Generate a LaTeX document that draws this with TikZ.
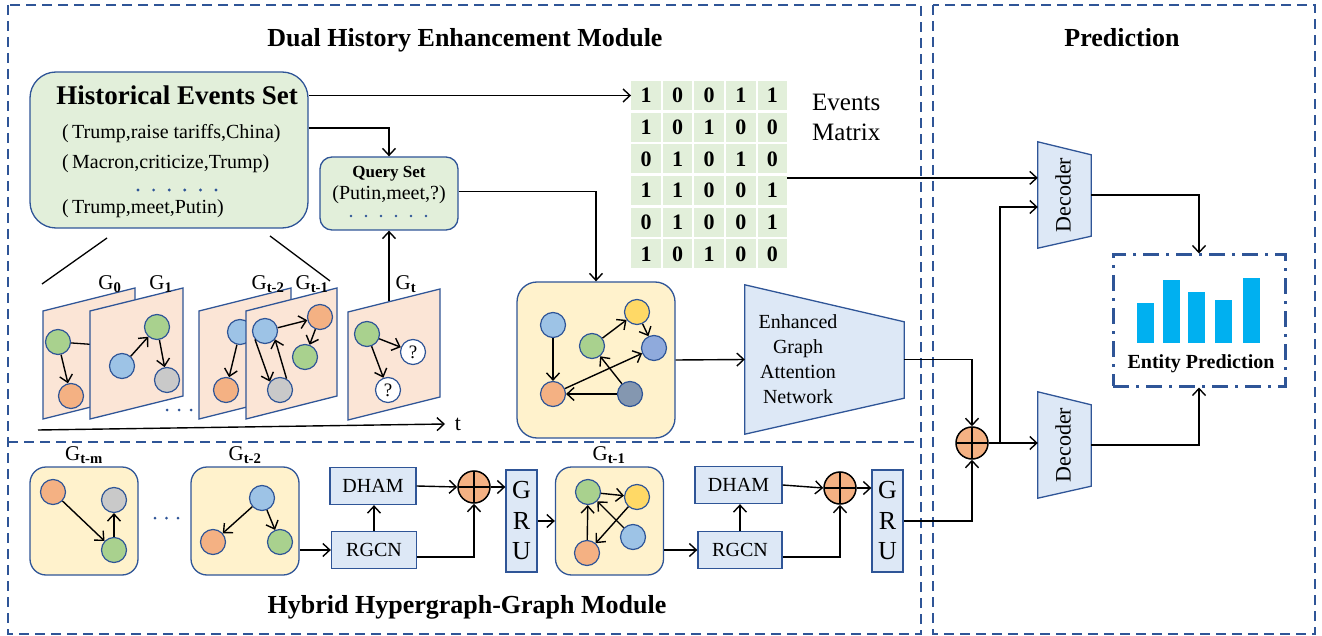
\documentclass[tikz,border=0pt]{standalone}
\usepackage{fontspec}
\setmainfont{Liberation Serif}
\definecolor{hblue}{RGB}{47,85,151}
\definecolor{setgreen}{RGB}{226,239,218}
\definecolor{graphbg}{RGB}{255,242,204}
\definecolor{slabbg}{RGB}{251,229,214}
\definecolor{modbg}{RGB}{221,232,246}
\definecolor{ngreen}{RGB}{169,209,142}
\definecolor{norange}{RGB}{244,177,131}
\definecolor{nblue}{RGB}{157,195,230}
\definecolor{ngray}{RGB}{201,201,201}
\definecolor{nyellow}{RGB}{255,217,102}
\definecolor{nblue2}{RGB}{143,170,220}
\definecolor{nslate}{RGB}{132,151,176}
\definecolor{barcyan}{RGB}{0,176,240}
\usetikzlibrary{arrows.meta,positioning,calc}
\newcommand{\fsz}[1]{\fontsize{#1}{#1}\selectfont}

\begin{document}
\begin{tikzpicture}[x=1pt, y=-1pt,
  arr/.style={-{Straight Barb[length=7pt,width=13pt]}, line width=1.4pt},
  vert/.style={circle, draw=hblue, line width=1.2pt, minimum size=25pt, inner sep=0pt},
  qvert/.style={vert, fill=white, font=\fsz{19}},
  modframe/.style={draw=hblue, line width=2pt, dash pattern=on 10pt off 6pt},
  slab/.style={fill=slabbg, draw=hblue, line width=1.3pt},
  gbox/.style={draw=hblue, fill=graphbg, line width=1.3pt, rounded corners=16pt, minimum width=108pt, minimum height=108pt},
  blk/.style={draw=hblue, fill=modbg, line width=1.3pt, font=\fsz{20}, inner sep=0pt},
  oplus/.style={circle, draw, fill=norange, line width=1.5pt, minimum size=32pt, inner sep=0pt,
    path picture={\draw[line width=1.5pt] (path picture bounding box.north) -- (path picture bounding box.south)
      (path picture bounding box.west) -- (path picture bounding box.east);}},
  title/.style={font=\fsz{26}\bfseries},
  body/.style={font=\fsz{20}, inner sep=0pt},
  glabel/.style={font=\fsz{21}, inner sep=0pt}]
  \useasboundingbox (0,0) rectangle (1322,636);

  % Module frames
  \draw[modframe] (8,5) rectangle (921,634);
  \draw[modframe] (8,442) -- (921,442);
  \draw[modframe] (933,5) rectangle (1315,634);
  \node[title] (dhtitle) at (465,40) {Dual History Enhancement Module};
  \node[title] (pdtitle) at (1122,38) {Prediction};
  \node[title] (hhtitle) at (467,607) {Hybrid Hypergraph-Graph Module};

  % Historical events set
  \node[draw=hblue, fill=setgreen, line width=1.3pt, rounded corners=26pt, minimum width=278pt, minimum height=156pt] (hes) at (169,150) {};
  \node[font=\fsz{27}\bfseries] (hestitle) at (177,95) {Historical Events Set};
  \node[body, anchor=west] (ev1) at (62,134) {(\,Trump,raise tariffs,China)};
  \node[body, anchor=west] (ev2) at (62,164) {(\,Macron,criticize,Trump)};
  \foreach \i in {0,...,5} \fill[hblue] ({138+15.6*\i},190) circle (1.6);
  \node[body, anchor=west] (ev3) at (62,209) {(\,Trump,meet,Putin)};

  % Query set
  \node[draw=hblue, fill=setgreen, line width=1.3pt, rounded corners=12pt, minimum width=138pt, minimum height=73pt] (query) at (389,193.5) {};
  \node[font=\fsz{17}\bfseries] (qtitle) at (389,174) {Query Set};
  \node[body] (q1) at (389,195) {(Putin,meet,?)};
  \foreach \i in {0,...,5} \fill[hblue] ({351+15*\i},216) circle (1.4);

  % Events matrix
  \foreach \row [count=\r] in {{1,0,0,1,1},{1,0,1,0,0},{0,1,0,1,0},{1,1,0,0,1},{0,1,0,0,1},{1,0,1,0,0}}
    \foreach \v [count=\c] in \row
      \node[fill=setgreen, minimum width=29.5pt, minimum height=29pt, inner sep=0pt, font=\fsz{22}\bfseries]
        (m-\r-\c) at ({646+31.6*(\c-1)},{95.5+31.7*(\r-1)}) {\v};
  \node[font=\fontsize{25}{30}\selectfont, anchor=west, align=left, inner sep=0pt] (emlabel) at (812,117) {Events\\Matrix};

  % Snapshots G0 ... Gt
  \coordinate (bl) at (107,238);
  \coordinate (br) at (270,236);
  \draw[line width=1.3pt] (bl) -- (42,284);
  \draw[line width=1.3pt] (br) -- (330,281);
  \filldraw[slab] (43,311) -- ++(92,-23) -- ++(0,108) -- ++(-92,23) -- cycle;
  \node[vert, fill=ngreen] (g0a) at (58,342) {};
  \node[vert, fill=norange] (g0b) at (71,396) {};
  \coordinate (g0r) at (100,345);
  \draw[line width=1.3pt] (g0a) -- (g0r);
  \draw[arr] (g0a) -- (g0b);
  \filldraw[slab] (90,311) -- ++(93,-23) -- ++(0,108) -- ++(-93,23) -- cycle;
  \node[vert, fill=ngreen] (g1a) at (157,327) {};
  \node[vert, fill=nblue] (g1b) at (122,366) {};
  \node[vert, fill=ngray] (g1c) at (167,380) {};
  \draw[arr] (g1b) -- (g1a);
  \draw[arr] (g1a) -- (g1c);
  \foreach \i in {0,1,2} \fill[hblue] ({167+12*\i},410) circle (1.5);
  \filldraw[slab] (199,311) -- ++(92,-23) -- ++(0,108) -- ++(-92,23) -- cycle;
  \node[vert, fill=nblue] (g2a) at (240,332) {};
  \node[vert, fill=norange] (g2b) at (226,390) {};
  \draw[arr] (g2a) -- (g2b);
  \filldraw[slab] (246,311) -- ++(91,-23) -- ++(0,108) -- ++(-91,23) -- cycle;
  \node[vert, fill=nblue] (g3a) at (265,331) {};
  \node[vert, fill=norange] (g3b) at (320,317) {};
  \node[vert, fill=ngreen] (g3c) at (305,357) {};
  \node[vert, fill=ngray] (g3d) at (280,390) {};
  \draw[arr] (g3a) -- (g3b);
  \draw[arr] (g3b) -- (g3c);
  \draw[arr] (g3a.220) -- (g3d.140);
  \draw[arr] (g3d.60) -- (g3a.-40);
  \filldraw[slab] (348,312) -- ++(92,-23) -- ++(0,108) -- ++(-92,23) -- cycle;
  \node[vert, fill=ngreen] (g4a) at (367,334) {};
  \node[qvert] (g4b) at (413,352) {?};
  \node[qvert] (g4c) at (388,390) {?};
  \draw[arr] (g4a) -- (g4b);
  \draw[arr] (g4a) -- (g4c);
  \node[glabel] (lg0) at (110,284) {G\textsubscript{\bfseries 0}};
  \node[glabel] (lg1) at (161,284) {G\textsubscript{\bfseries 1}};
  \node[glabel] (lg2) at (268,284) {G\textsubscript{\bfseries t-2}};
  \node[glabel] (lg3) at (312,284) {G\textsubscript{\bfseries t-1}};
  \node[glabel] (lg4) at (406,284) {G\textsubscript{\bfseries t}};

  % Time axis
  \coordinate (t0) at (38,430);
  \coordinate (t1) at (445,424);
  \draw[arr] (t0) -- (t1);
  \node[font=\fsz{22}] (tlabel) at (458,424) {t};

  % Query path and enhanced graph
  \coordinate (gttop) at (389,301);
  \draw[arr] (gttop) -- (query.south);
  \draw[arr] (hes.east |- m-1-1) -- (m-1-1.west);
  \draw[arr] ([yshift=22pt]hes.east) -| (query.north);
  \node[draw=hblue, fill=graphbg, line width=1.3pt, rounded corners=20pt, minimum width=158pt, minimum height=156pt] (gbig) at (596,360) {};
  \draw[arr] ([yshift=2pt]query.east) -| (gbig.north);
  \node[vert, fill=nblue] (ga) at (553,325) {};
  \node[vert, fill=nyellow] (gb) at (637,312) {};
  \node[vert, fill=ngreen] (gc) at (592,346) {};
  \node[vert, fill=nblue2] (gd) at (654,348) {};
  \node[vert, fill=norange] (ge) at (553,394) {};
  \node[vert, fill=nslate] (gf) at (630,394) {};
  \draw[arr] (ga) -- (ge);
  \draw[arr] (gc) -- (gb);
  \draw[arr] (gb) -- (gd);
  \draw[arr] (ge) -- (gd);
  \draw[arr] (gf) -- (gc);
  \draw[arr] (gf) -- (ge);

  % Enhanced graph attention network
  \node[minimum width=159pt, minimum height=149pt, inner sep=0pt] (gat) at (824.5,359.5) {};
  \filldraw[blk] (gat.north west) -- ([yshift=-37pt]gat.north east) -- ([yshift=36pt]gat.south east) -- (gat.south west) -- cycle;
  \node[font=\fontsize{20}{25}\selectfont, align=center] (gattxt) at (798,359) {Enhanced\\Graph\\Attention\\Network};
  \draw[arr] (gbig.east) -- (gat.west);

  % Hypergraph-graph branch
  \node[gbox] (bm) at (84,521) {};
  \node[vert, fill=norange] (bma) at (53,492) {};
  \node[vert, fill=ngray] (bmb) at (114,500) {};
  \node[vert, fill=ngreen] (bmc) at (114,550) {};
  \draw[arr] (bma) -- (bmc);
  \draw[arr] (bmc) -- (bmb);
  \foreach \i in {0,1,2} \fill[hblue] ({155+11.5*\i},518) circle (1.5);
  \node[gbox] (b2) at (245,521) {};
  \node[vert, fill=nblue] (b2a) at (262,498) {};
  \node[vert, fill=norange] (b2b) at (213,542) {};
  \node[vert, fill=ngreen] (b2c) at (280,542) {};
  \draw[arr] (b2a) -- (b2b);
  \draw[arr] (b2a) -- (b2c);
  \node[glabel] (lbm) at (84,455) {G\textsubscript{\bfseries t-m}};
  \node[glabel] (lb2) at (245,455) {G\textsubscript{\bfseries t-2}};

  \node[blk, minimum width=86pt, minimum height=37pt] (dham1) at (373,486) {DHAM};
  \node[blk, minimum width=85pt, minimum height=37pt] (rgcn1) at (374,550) {RGCN};
  \node[oplus] (plus1) at (474,487) {};
  \node[blk, minimum width=31pt, minimum height=102pt, align=center, font=\fontsize{26}{30.5}\selectfont] (gru1) at (521.5,521) {G\\R\\U};
  \draw[arr] (b2.east |- rgcn1) -- (rgcn1.west);
  \draw[arr] (rgcn1.north) -- (rgcn1.north |- dham1.south);
  \draw[arr] (dham1.east) -- (plus1.west);
  \draw[arr] ([yshift=-7pt]rgcn1.east) -| (plus1.south);
  \draw[arr] (plus1.east) -- (plus1.east -| gru1.west);

  \node[gbox] (b1) at (609.5,521) {};
  \node[vert, fill=ngreen] (b1a) at (588,492) {};
  \node[vert, fill=nyellow] (b1b) at (637,497) {};
  \node[vert, fill=nblue] (b1c) at (633,537) {};
  \node[vert, fill=norange] (b1d) at (587,553) {};
  \draw[arr] (b1a) -- (b1b);
  \draw[arr] (b1d) -- (b1a);
  \draw[arr] (b1c) -- (b1a);
  \draw[arr] (b1b) -- (b1d);
  \node[glabel] (lb1) at (609,455) {G\textsubscript{\bfseries t-1}};
  \draw[arr] (gru1.east) -- (gru1.east -| b1.west);

  \node[blk, minimum width=87pt, minimum height=37pt] (dham2) at (738.5,485) {DHAM};
  \node[blk, minimum width=84pt, minimum height=37pt] (rgcn2) at (740,550) {RGCN};
  \node[oplus] (plus2) at (840,488) {};
  \node[blk, minimum width=31pt, minimum height=102pt, align=center, font=\fontsize{26}{30.5}\selectfont] (gru2) at (887.5,521) {G\\R\\U};
  \draw[arr] (b1.east |- rgcn2) -- (rgcn2.west);
  \draw[arr] (rgcn2.north) -- (rgcn2.north |- dham2.south);
  \draw[arr] (dham2.east) -- (plus2.west);
  \draw[arr] ([yshift=-7pt]rgcn2.east) -| (plus2.south);
  \draw[arr] (plus2.east) -- (plus2.east -| gru2.west);

  % Prediction
  \node[oplus] (plus3) at (972,443) {};
  \draw[arr] (gat.east) -| (plus3.north);
  \draw[arr] (gru2.east) -| (plus3.south);
  \node[minimum width=53pt, minimum height=106pt, inner sep=0pt] (dec1) at (1064.5,195) {};
  \filldraw[blk] (dec1.north west) -- ([yshift=-13pt]dec1.north east) -- ([yshift=12pt]dec1.south east) -- (dec1.south west) -- cycle;
  \node[rotate=90, font=\fsz{22}] (dec1txt) at (1063,195) {Decoder};
  \node[minimum width=53pt, minimum height=106pt, inner sep=0pt] (dec2) at (1064.5,445) {};
  \filldraw[blk] (dec2.north west) -- ([yshift=-13pt]dec2.north east) -- ([yshift=12pt]dec2.south east) -- (dec2.south west) -- cycle;
  \node[rotate=90, font=\fsz{22}] (dec2txt) at (1063,445) {Decoder};
  \coordinate (split) at (1000,443);
  \draw[arr] ([yshift=-2pt]m-4-5.north east) coordinate (mo) -- (mo -| dec1.west);
  \draw[arr] (split) |- ([yshift=-12pt]dec1.west);
  \draw[arr] (plus3.east) -- (plus3.east -| dec2.west);

  \node[draw=hblue, line width=3pt, dash pattern=on 16pt off 7pt on 3pt off 7pt, minimum width=172pt, minimum height=131pt] (ent) at (1199,320.5) {};
  \foreach \bx/\by in {1145/303,1171.5/280,1196.5/292,1223.5/300,1251.5/278}
    \fill[barcyan] ({\bx-8.5},\by) rectangle ({\bx+8.5},343);
  \node[font=\fsz{20}\bfseries] (enttxt) at (1201,364) {Entity Prediction};
  \draw[arr] (dec1.east) -| (ent.north);
  \draw[arr] (dec2.east) -| (ent.south);
\end{tikzpicture}
\end{document}
